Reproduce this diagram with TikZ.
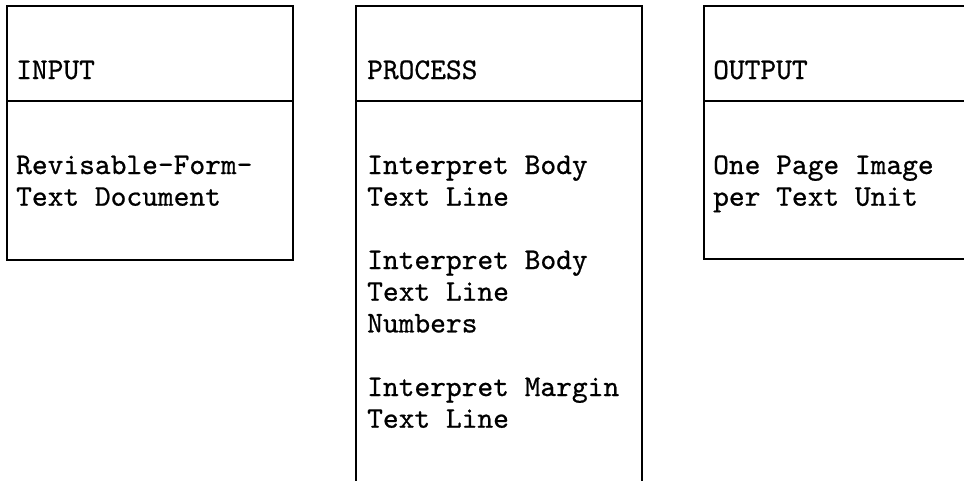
\documentclass[tikz,border=0pt]{standalone}
\usepackage{fontspec}
\newfontface\twface[FakeBold=0.7]{lmmono10-regular.otf}
\begin{document}
\begin{tikzpicture}[x=1pt,y=-1pt,
  frame/.style={line width=1.6pt,black},
  txt/.style={anchor=base west,inner sep=0pt,font=\twface\fontsize{30}{32}\selectfont}]
\useasboundingbox (0,0) rectangle (964,480);
% INPUT box
\coordinate (a1) at (7,6);
\coordinate (a2) at (293,260);
\draw[frame] (a1) rectangle (a2);
\draw[frame] (7,101) -- (293,101);
% PROCESS box (open at bottom edge)
\draw[frame] (356,481) -- (356,6) -- (642,6) -- (642,481);
\draw[frame] (356,101) -- (642,101);
% OUTPUT box (open at right edge)
\draw[frame] (965,6) -- (704,6) -- (704,259) -- (965,259);
\draw[frame] (704,101) -- (965,101);
% texts
\node[txt] (t1) at (16,79) {INPUT};
\node[txt] (i1) at (16,174) {Revisable-Form-};
\node[txt] (i2) at (16,205.7) {Text Document};
\node[txt] (t2) at (367,79) {PROCESS};
\node[txt] (p1) at (367,174) {Interpret Body};
\node[txt] (p2) at (367,205.7) {Text Line};
\node[txt] (p3) at (367,269) {Interpret Body};
\node[txt] (p4) at (367,300.7) {Text Line};
\node[txt] (p5) at (367,332.4) {Numbers};
\node[txt] (p6) at (367,396) {Interpret Margin};
\node[txt] (p7) at (367,427.7) {Text Line};
\node[txt] (t3) at (713,79) {OUTPUT};
\node[txt] (o1) at (713,174) {One Page Image};
\node[txt] (o2) at (713,205.7) {per Text Unit};
\end{tikzpicture}
\end{document}
